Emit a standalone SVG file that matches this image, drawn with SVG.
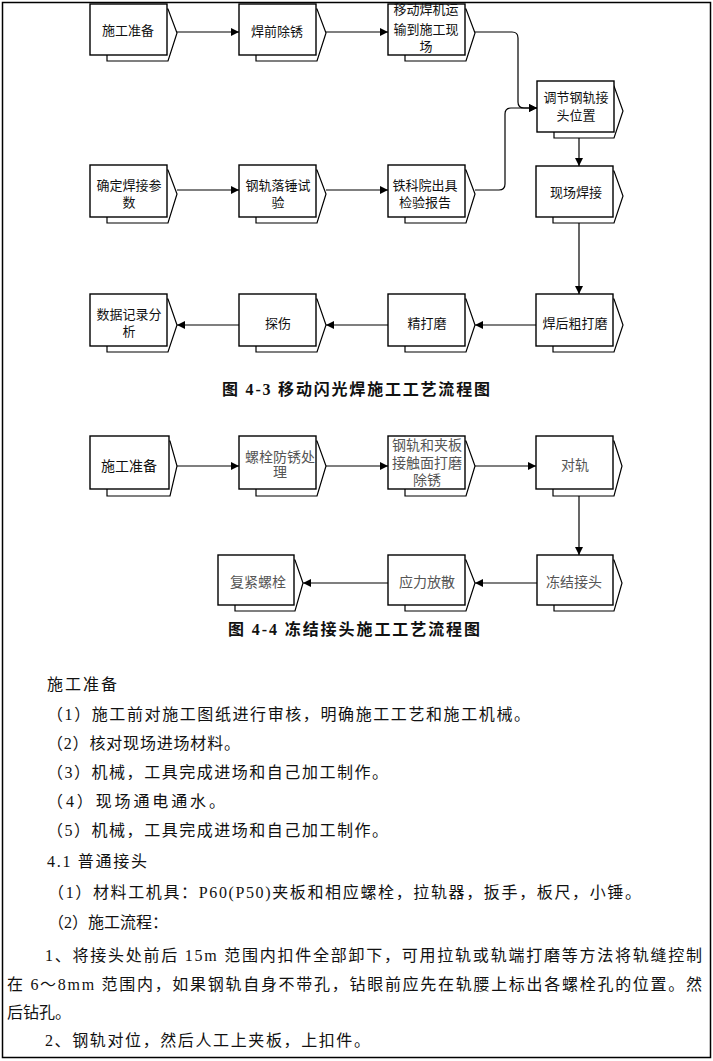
<svg xmlns="http://www.w3.org/2000/svg" width="713" height="1061" viewBox="0 0 713 1061">
<style>
.bk{fill:#fff;stroke:#000;stroke-width:1.2}
.fr{fill:#fff;stroke:#000;stroke-width:1.4}
.t1{font-family:"Noto Sans CJK SC",sans-serif;font-size:13px;fill:#111;text-anchor:middle}
.t2{font-family:"Liberation Serif","Noto Sans CJK SC",serif;font-size:14px;fill:#555;text-anchor:middle}
.cap{font-family:"Liberation Serif","Noto Sans CJK SC",serif;font-size:16px;font-weight:bold;fill:#111}
.bd{font-family:"Liberation Serif","Noto Sans CJK SC",serif;font-size:16px;fill:#111}
.cn{fill:none;stroke:#000;stroke-width:1.2}
</style>
<defs>
<marker id="ah" viewBox="0 0 10 10" refX="10" refY="5" markerWidth="8" markerHeight="8" markerUnits="userSpaceOnUse" orient="auto">
<path d="M0,0 L10,5 L0,10 Z" fill="#000"/>
</marker>
</defs>
<rect x="2.5" y="2.5" width="708" height="1055" fill="none" stroke="#000" stroke-width="1.5"/>

<!-- Diagram 4-3 -->
<g id="n1"><polygon class="bk" points="107,9 168,9 177,33 168,61 107,61"/><rect class="fr" x="90" y="4" width="77" height="51"/><text class="t1" x="128" y="35">施工准备</text></g>
<g id="n2"><polygon class="bk" points="256,9 317,9 326,33 317,61 256,61"/><rect class="fr" x="239" y="4" width="77" height="51"/><text class="t1" x="277" y="36">焊前除锈</text></g>
<g id="n3"><polygon class="bk" points="405,9 466,9 475,33 466,61 405,61"/><rect class="fr" x="388" y="4" width="77" height="51"/><text class="t1" x="426" y="14">移动焊机运</text><text class="t1" x="426" y="34">输到施工现</text><text class="t1" x="426" y="51">场</text></g>
<g id="n4"><polygon class="bk" points="554,86 614,86 623,111 614,138 554,138"/><rect class="fr" x="537" y="81" width="77" height="51"/><text class="t1" x="576" y="102">调节钢轨接</text><text class="t1" x="576" y="120">头位置</text></g>
<g id="n5"><polygon class="bk" points="107,170 168,170 177,194 168,223 107,223"/><rect class="fr" x="90" y="165" width="77" height="52"/><text class="t1" x="129" y="190">确定焊接参</text><text class="t1" x="129" y="207">数</text></g>
<g id="n6"><polygon class="bk" points="256,170 317,170 326,194 317,223 256,223"/><rect class="fr" x="239" y="165" width="77" height="52"/><text class="t1" x="278" y="190">钢轨落锤试</text><text class="t1" x="278" y="207">验</text></g>
<g id="n7"><polygon class="bk" points="405,170 466,170 475,194 466,223 405,223"/><rect class="fr" x="388" y="165" width="77" height="52"/><text class="t1" x="425" y="190">铁科院出具</text><text class="t1" x="425" y="207">检验报告</text></g>
<g id="n8"><polygon class="bk" points="553,171 614,171 623,196 614,223 553,223"/><rect class="fr" x="536" y="166" width="77" height="51"/><text class="t1" x="576" y="197">现场焊接</text></g>
<g id="n9"><polygon class="bk" points="107,299 168,299 177,325 168,352 107,352"/><rect class="fr" x="90" y="294" width="77" height="52"/><text class="t1" x="129" y="319">数据记录分</text><text class="t1" x="129" y="336">析</text></g>
<g id="n10"><polygon class="bk" points="256,299 317,299 326,325 317,352 256,352"/><rect class="fr" x="239" y="294" width="77" height="52"/><text class="t1" x="278" y="328">探伤</text></g>
<g id="n11"><polygon class="bk" points="405,299 466,299 475,325 466,352 405,352"/><rect class="fr" x="388" y="294" width="77" height="52"/><text class="t1" x="427" y="328">精打磨</text></g>
<g id="n12"><polygon class="bk" points="553,299 614,299 623,325 614,352 553,352"/><rect class="fr" x="536" y="294" width="77" height="52"/><text class="t1" x="575" y="328">焊后粗打磨</text></g>
<text class="cap" x="222" y="395" textLength="268" lengthAdjust="spacing">图 4-3 移动闪光焊施工工艺流程图</text>

<!-- Diagram 4-4 -->
<g id="m1"><polygon class="bk" points="107,441 170,441 177,466 170,496 107,496"/><rect class="fr" x="90" y="436" width="79" height="53"/><text class="t1" x="129" y="471" style="font-size:14px">施工准备</text></g>
<g id="m2"><polygon class="bk" points="256,441 317,441 326,466 317,496 256,496"/><rect class="fr" x="239" y="436" width="77" height="53"/><text class="t2" x="280" y="462">螺栓防锈处</text><text class="t2" x="280" y="477">理</text></g>
<g id="m3"><polygon class="bk" points="405,441 466,441 475,466 466,496 405,496"/><rect class="fr" x="388" y="436" width="77" height="53"/><text class="t2" x="427" y="450">钢轨和夹板</text><text class="t2" x="427" y="468">接触面打磨</text><text class="t2" x="427" y="485">除锈</text></g>
<g id="m4"><polygon class="bk" points="553,441 614,441 622,466 614,496 553,496"/><rect class="fr" x="536" y="436" width="77" height="53"/><text class="t2" x="575" y="470">对轨</text></g>
<g id="m5"><polygon class="bk" points="235,560 295,560 303,583 295,611 235,611"/><rect class="fr" x="218" y="555" width="76" height="50"/><text class="t2" x="258" y="587">复紧螺栓</text></g>
<g id="m6"><polygon class="bk" points="405,560 466,560 475,583 466,611 405,611"/><rect class="fr" x="388" y="555" width="77" height="50"/><text class="t2" x="427" y="587">应力放散</text></g>
<g id="m7"><polygon class="bk" points="554,560 614,560 622,583 614,611 554,611"/><rect class="fr" x="537" y="555" width="76" height="50"/><text class="t2" x="574" y="587">冻结接头</text></g>
<text class="cap" x="228" y="635" textLength="252" lengthAdjust="spacing">图 4-4 冻结接头施工工艺流程图</text>

<g id="connectors">
<path class="cn" marker-end="url(#ah)" d="M177,32 H239"/>
<path class="cn" marker-end="url(#ah)" d="M326,32 H388"/>
<path class="cn" marker-end="url(#ah)" d="M475,32 H512 Q518,32 518,38 V102 Q518,108 524,108 H537"/>
<path class="cn" marker-end="url(#ah)" d="M475,190 H499 Q505,190 505,184 V114 Q505,108 511,108 H537"/>
<path class="cn" marker-end="url(#ah)" d="M177,190 H239"/>
<path class="cn" marker-end="url(#ah)" d="M326,190 H388"/>
<path class="cn" marker-end="url(#ah)" d="M579,138 V166"/>
<path class="cn" marker-end="url(#ah)" d="M579,223 V294"/>
<path class="cn" marker-end="url(#ah)" d="M536,325 H475"/>
<path class="cn" marker-end="url(#ah)" d="M388,325 H326"/>
<path class="cn" marker-end="url(#ah)" d="M239,325 H177"/>
<path class="cn" marker-end="url(#ah)" d="M177,466 H239"/>
<path class="cn" marker-end="url(#ah)" d="M326,466 H388"/>
<path class="cn" marker-end="url(#ah)" d="M475,466 H536"/>
<path class="cn" marker-end="url(#ah)" d="M579,496 V555"/>
<path class="cn" marker-end="url(#ah)" d="M537,583 H475"/>
<path class="cn" marker-end="url(#ah)" d="M388,583 H303"/>
</g>

<!-- Body text -->
<text class="bd" x="47" y="690" textLength="70" lengthAdjust="spacing">施工准备</text>
<text class="bd" x="47" y="720" textLength="483" lengthAdjust="spacing">（1）施工前对施工图纸进行审核，明确施工工艺和施工机械。</text>
<text class="bd" x="47" y="749" textLength="193" lengthAdjust="spacing">（2）核对现场进场材料。</text>
<text class="bd" x="47" y="778" textLength="341" lengthAdjust="spacing">（3）机械，工具完成进场和自己加工制作。</text>
<text class="bd" x="47" y="807" textLength="178" lengthAdjust="spacing">（4）现场通电通水。</text>
<text class="bd" x="47" y="836" textLength="341" lengthAdjust="spacing">（5）机械，工具完成进场和自己加工制作。</text>
<text class="bd" x="47" y="867" textLength="100" lengthAdjust="spacing">4.1 普通接头</text>
<text class="bd" x="48" y="898" textLength="593" lengthAdjust="spacing">（1）材料工机具：P60(P50)夹板和相应螺栓，拉轨器，扳手，板尺，小锤。</text>
<text class="bd" x="48" y="928">（2）施工流程：</text>
<text class="bd" x="45" y="961" textLength="657" lengthAdjust="spacing">1、将接头处前后 15m 范围内扣件全部卸下，可用拉轨或轨端打磨等方法将轨缝控制</text>
<text class="bd" x="7" y="990" textLength="695" lengthAdjust="spacing">在 6～8mm 范围内，如果钢轨自身不带孔，钻眼前应先在轨腰上标出各螺栓孔的位置。然</text>
<text class="bd" x="7" y="1018">后钻孔。</text>
<text class="bd" x="45" y="1046" textLength="325" lengthAdjust="spacing">2、钢轨对位，然后人工上夹板，上扣件。</text>
</svg>
